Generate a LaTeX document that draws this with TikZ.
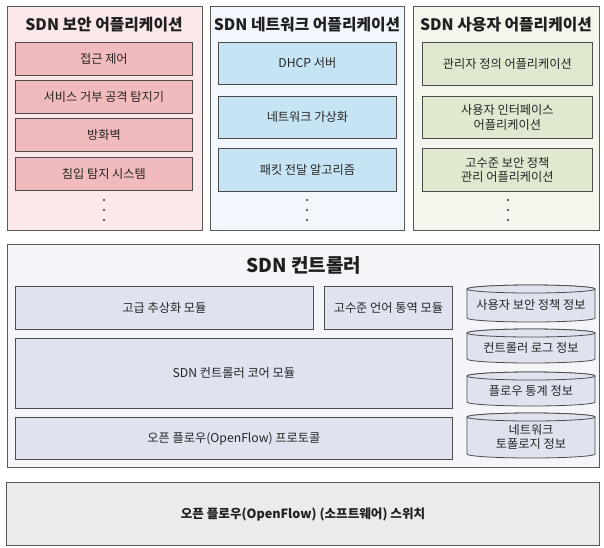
\documentclass[tikz,border=0pt]{standalone}
\usepackage{fontspec}
\setmainfont{Noto Sans CJK KR}
\begin{document}
\begin{tikzpicture}[x=1pt,y=-1pt,
  outer/.style={draw=black!65,line width=1pt},
  inner/.style={draw=black!70,line width=0.8pt},
  lbl/.style={font=\fontsize{12.2}{14.5}\selectfont,text=black!85,align=center},
  ttl/.style={font=\fontsize{15.8}{18}\selectfont\bfseries,text=black!88},
  dot/.style={fill=black!80},
  cyl/.style={draw=black!70,line width=0.8pt,fill=ctrlin}]
\definecolor{pinkout}{HTML}{FBE9EA}
\definecolor{pinkin}{HTML}{F1BABD}
\definecolor{blueout}{HTML}{F1F7FC}
\definecolor{bluein}{HTML}{C6E4F4}
\definecolor{greenout}{HTML}{F2F6EC}
\definecolor{greenin}{HTML}{DEE9CF}
\definecolor{ctrlout}{HTML}{F4F5F9}
\definecolor{ctrlin}{HTML}{DFE3EF}
\definecolor{swfill}{HTML}{EBEBEB}
\useasboundingbox[fill=white] (0,0) rectangle (604,547);

% Security applications
\node[outer,fill=pinkout,minimum width=195pt,minimum height=224pt,anchor=north west] (sec) at (7,6) {};
\node[ttl] (sectitle) at (104,25) {SDN 보안 어플리케이션};
\node[inner,fill=pinkin,minimum width=177pt,minimum height=33pt,anchor=north west,lbl] (acl) at (15,42) {접근 제어};
\node[inner,fill=pinkin,minimum width=177pt,minimum height=33pt,anchor=north west,lbl] (dos) at (15,80) {서비스 거부 공격 탐지기};
\node[inner,fill=pinkin,minimum width=177pt,minimum height=33pt,anchor=north west,lbl] (fw) at (15,118) {방화벽};
\node[inner,fill=pinkin,minimum width=177pt,minimum height=33pt,anchor=north west,lbl] (ids) at (15,157) {침입 탐지 시스템};
\fill[dot] (104,200) circle (1.2) (104,210) circle (1.2) (104,220) circle (1.2);

% Network applications
\node[outer,fill=blueout,minimum width=194pt,minimum height=224pt,anchor=north west] (net) at (210,6) {};
\node[ttl] (nettitle) at (307,25) {SDN 네트워크 어플리케이션};
\node[inner,fill=bluein,minimum width=178pt,minimum height=42pt,anchor=north west,lbl] (dhcp) at (218,42) {DHCP 서버};
\node[inner,fill=bluein,minimum width=178pt,minimum height=42pt,anchor=north west,lbl] (virt) at (218,96) {네트워크 가상화};
\node[inner,fill=bluein,minimum width=178pt,minimum height=43pt,anchor=north west,lbl] (pkt) at (218,148) {패킷 전달 알고리즘};
\fill[dot] (307,200) circle (1.2) (307,210) circle (1.2) (307,220) circle (1.2);

% User applications
\node[outer,fill=greenout,minimum width=186pt,minimum height=224pt,anchor=north west] (usr) at (413,6) {};
\node[ttl] (usrtitle) at (506,25) {SDN 사용자 어플리케이션};
\node[inner,fill=greenin,minimum width=170pt,minimum height=43pt,anchor=north west,lbl] (admin) at (422,42) {관리자 정의 어플리케이션};
\node[inner,fill=greenin,minimum width=170pt,minimum height=42pt,anchor=north west,lbl] (ui) at (422,96) {사용자 인터페이스\\어플리케이션};
\node[inner,fill=greenin,minimum width=170pt,minimum height=43pt,anchor=north west,lbl] (pol) at (422,148) {고수준 보안 정책\\관리 어플리케이션};
\fill[dot] (508,200) circle (1.2) (508,210) circle (1.2) (508,220) circle (1.2);

% Controller
\node[outer,fill=ctrlout,minimum width=592pt,minimum height=223pt,anchor=north west] (ctrl) at (7,244) {};
\node[font=\fontsize{19}{21}\selectfont\bfseries,text=black!88] (ctrltitle) at (304,265) {SDN 컨트롤러};
\node[inner,fill=ctrlin,minimum width=298pt,minimum height=43pt,anchor=north west,lbl] (abs) at (15,286) {고급 추상화 모듈};
\node[inner,fill=ctrlin,minimum width=128pt,minimum height=43pt,anchor=north west,lbl] (lang) at (324,286) {고수준 언어 통역 모듈};
\node[inner,fill=ctrlin,minimum width=437pt,minimum height=70pt,anchor=north west,lbl] (core) at (15,338) {SDN 컨트롤러 코어 모듈};
\node[inner,fill=ctrlin,minimum width=437pt,minimum height=42pt,anchor=north west,lbl] (ofp) at (15,417) {오픈 플로우(OpenFlow) 프로토콜};

% Cylinders
\path[cyl] (467,289) -- (467,318) arc[start angle=180,end angle=0,x radius=64,y radius=4] -- (595,289) arc[start angle=0,end angle=-180,x radius=64,y radius=4] -- cycle;
\draw[cyl] (531,289) ellipse[x radius=64,y radius=4];
\node[lbl] (db1) at (531,305) {사용자 보안 정책 정보};

\path[cyl] (467,333) -- (467,359) arc[start angle=180,end angle=0,x radius=64,y radius=4] -- (595,333) arc[start angle=0,end angle=-180,x radius=64,y radius=4] -- cycle;
\draw[cyl] (531,333) ellipse[x radius=64,y radius=4];
\node[lbl] (db2) at (531,348) {컨트롤러 로그 정보};

\path[cyl] (467,376) -- (467,402) arc[start angle=180,end angle=0,x radius=64,y radius=4] -- (595,376) arc[start angle=0,end angle=-180,x radius=64,y radius=4] -- cycle;
\draw[cyl] (531,376) ellipse[x radius=64,y radius=4];
\node[lbl] (db3) at (531,391) {플로우 통계 정보};

\path[cyl] (467,417) -- (467,454) arc[start angle=180,end angle=0,x radius=64,y radius=4] -- (595,417) arc[start angle=0,end angle=-180,x radius=64,y radius=4] -- cycle;
\draw[cyl] (531,417) ellipse[x radius=64,y radius=4];
\node[lbl] (db4) at (531,437) {네트워크\\토폴로지 정보};

% Switch
\node[outer,fill=swfill,minimum width=593pt,minimum height=63pt,anchor=north west,font=\fontsize{12.6}{15}\selectfont\bfseries,text=black!88] (sw) at (6,482) {오픈 플로우(OpenFlow) (소프트웨어) 스위치};
\end{tikzpicture}
\end{document}
